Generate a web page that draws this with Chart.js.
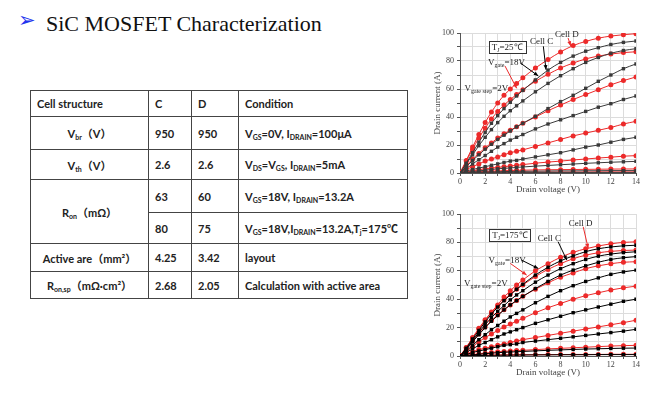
<!DOCTYPE html>
<html>
<head>
<meta charset="utf-8">
<script src="https://cdn.jsdelivr.net/npm/chart.js@4/dist/chart.umd.min.js"></script>
<style>
  body { margin: 0; background: #fff; }
  #page { position: relative; width: 668px; height: 397px; overflow: hidden; background: #fff; }
  #bullet { position: absolute; left: 18px; top: 9px; font: 21px/22px "DejaVu Sans"; color: #2233ee; }
  #title { position: absolute; left: 46px; top: 13px; font: 22px/22px "Liberation Serif"; color: #111; white-space: nowrap; }
  #spec { position: absolute; left: 30px; top: 90px; width: 377px; border-collapse: collapse; table-layout: fixed;
          font: bold 11px Lato, "Noto Sans CJK SC", sans-serif; color: #222; }
  #spec td { border: 1px solid #444; padding: 0 0 0 6px; vertical-align: middle; white-space: nowrap; }
  #spec td.c { text-align: center; padding: 0; }
  #spec sub { font-size: 7px; vertical-align: -2px; line-height: 0; }
  canvas { position: absolute; }
</style>
</head>
<body>
<div id="page">
  <div id="bullet">➢</div>
  <div id="title">SiC MOSFET Characterization</div>
  <table id="spec">
    <colgroup><col style="width:118px"><col style="width:43px"><col style="width:47px"><col style="width:169px"></colgroup>
    <tr style="height:26px"><td>Cell structure</td><td>C</td><td>D</td><td>Condition</td></tr>
    <tr style="height:33px"><td class="c">V<sub>br</sub>（V）</td><td>950</td><td>950</td><td>V<sub>GS</sub>=0V, I<sub>DRAIN</sub>=100μA</td></tr>
    <tr style="height:30px"><td class="c">V<sub>th</sub>（V）</td><td>2.6</td><td>2.6</td><td>V<sub>DS</sub>=V<sub>GS</sub>, I<sub>DRAIN</sub>=5mA</td></tr>
    <tr style="height:33px"><td class="c" rowspan="2">R<sub>on</sub>（mΩ）</td><td>63</td><td>60</td><td>V<sub>GS</sub>=18V, I<sub>DRAIN</sub>=13.2A</td></tr>
    <tr style="height:31px"><td>80</td><td>75</td><td>V<sub>GS</sub>=18V,I<sub>DRAIN</sub>=13.2A,T<sub>j</sub>=175℃</td></tr>
    <tr style="height:28px"><td class="c">Active are（mm²）</td><td>4.25</td><td>3.42</td><td>layout</td></tr>
    <tr style="height:27px"><td class="c">R<sub>on,sp</sub>（mΩ·cm²）</td><td>2.68</td><td>2.05</td><td>Calculation with active area</td></tr>
  </table>
  <canvas id="chart25" width="230" height="175" style="left:420px;top:25px"></canvas>
  <canvas id="chart175" width="230" height="180" style="left:420px;top:205px"></canvas>
</div>
<script>
// drain voltage (V) at which the curves are sampled
const voltage = [0, 0.5, 1, 1.5, 2, 2.5, 3, 3.5, 4, 4.5, 5, 6, 7, 8, 9, 10, 11, 12, 13, 14];

// Tj = 25C, drain current (A), cell C (squares) and cell D (circles), Vgate 18V down in 2V steps
const c25_18 = [0, 7, 14.5, 22, 29, 35.5, 41, 46, 50.5, 55, 59, 66.5, 73.5, 79, 83.5, 87, 89.5, 91.8, 93.3, 94.3];
const c25_16 = [0, 6.5, 13, 19.5, 25.5, 31, 36, 40.5, 44.5, 48, 51.5, 58, 64, 69.5, 74.5, 79, 82.5, 85.5, 87.5, 88.8];
const c25_14 = [0, 4.5, 9, 13, 17, 20.5, 24, 27, 30, 33, 35.5, 40.5, 46, 51, 55.5, 60.5, 65.5, 70, 74.5, 77.9];
const c25_12 = [0, 3, 6.5, 9.5, 12.5, 15.5, 18.5, 21, 23.5, 25.5, 27.5, 31.5, 35, 38, 41, 44, 47, 49.5, 52.5, 55];
const c25_10 = [0, 1.5, 2.5, 3.5, 4.5, 5.5, 6.5, 7.5, 8.5, 9, 10, 11.5, 13, 14.5, 16.5, 18.5, 20, 22, 24, 25.5];
const c25_8 = [0, 0.5, 1, 1.5, 2, 2.5, 3, 3.3, 3.6, 4, 4.3, 4.9, 5.4, 5.9, 6.4, 6.9, 7.3, 7.7, 8, 8.3];
const c25_6 = [0, 0.2, 0.4, 0.6, 0.7, 0.8, 0.9, 1, 1.1, 1.2, 1.2, 1.3, 1.4, 1.5, 1.5, 1.6, 1.6, 1.7, 1.7, 1.7];
const c25_4 = [0, 0.05, 0.1, 0.1, 0.15, 0.2, 0.2, 0.2, 0.2, 0.25, 0.25, 0.25, 0.3, 0.3, 0.3, 0.3, 0.3, 0.3, 0.3, 0.3];
const d25_18 = [0, 9, 18.5, 27.5, 36, 43.5, 50, 55.5, 60, 64, 68, 75, 81, 86.5, 91, 94, 96.3, 97.8, 98.8, 99.5];
const d25_16 = [0, 8.5, 17, 25, 32, 38.5, 44, 48.5, 52.5, 56, 59.5, 65.5, 70.5, 75, 78.5, 81.5, 83.5, 85, 86, 86.6];
const d25_14 = [0, 5, 10, 14, 18, 21.5, 25, 28, 30.5, 33, 35.5, 40, 44.5, 48.5, 52.5, 56, 59.5, 63, 66, 68.6];
const d25_12 = [0, 2.5, 4.5, 6.5, 8.5, 10, 11.5, 13, 14.5, 15.5, 16.5, 19, 21.5, 24, 26.5, 28.5, 30.5, 32.5, 35, 36.9];
const d25_10 = [0, 0.8, 1.5, 2.3, 3, 3.5, 4, 4.5, 5, 5.5, 6, 7, 7.8, 8.5, 9.3, 10, 10.7, 11.3, 12, 12.4];
const d25_8 = [0, 0.3, 0.6, 0.9, 1.1, 1.3, 1.5, 1.6, 1.8, 1.9, 2, 2.2, 2.3, 2.4, 2.5, 2.6, 2.7, 2.8, 2.85, 2.9];
const d25_6 = [0, 0.1, 0.2, 0.3, 0.4, 0.4, 0.5, 0.5, 0.5, 0.6, 0.6, 0.6, 0.7, 0.7, 0.7, 0.7, 0.8, 0.8, 0.8, 0.8];

// Tj = 175C
const c175_18 = [0, 5.5, 12, 18, 24, 29.5, 34.5, 39, 43, 47, 50.5, 57, 62.5, 67, 70.5, 73.5, 75.5, 76.8, 77.6, 78];
const c175_16 = [0, 5, 11, 16.5, 22, 27, 31.5, 35.5, 39.5, 43, 46, 52, 57, 61.5, 65, 68, 70.3, 71.8, 72.8, 73.4];
const c175_14 = [0, 4.5, 10, 15, 20, 24.5, 28.5, 32.5, 36, 39, 42, 47.5, 52.5, 57, 60.5, 63.5, 66, 68, 69.2, 70];
const c175_12 = [0, 3.5, 7.5, 11.5, 15, 18.5, 21.5, 24.5, 27.5, 30, 32.5, 37.5, 42, 46, 49.5, 52.5, 55, 57.5, 59.2, 60.5];
const c175_10 = [0, 2.5, 5, 7.5, 9.5, 11.5, 13.5, 15.5, 17, 18.5, 20, 23, 25.5, 28, 30.5, 32.5, 34.5, 36.5, 38.5, 40];
const c175_8 = [0, 1, 2.5, 3.5, 4.5, 5.5, 6.5, 7.5, 8, 8.5, 9.5, 10.5, 11.5, 12.5, 13.5, 14.5, 15.5, 16.5, 17.5, 18.8];
const c175_6 = [0, 0.4, 0.8, 1.2, 1.6, 2, 2.3, 2.6, 2.8, 3, 3.2, 3.6, 4, 4.3, 4.6, 4.9, 5.1, 5.3, 5.5, 5.6];
const c175_4 = [0, 0.1, 0.2, 0.3, 0.4, 0.5, 0.5, 0.6, 0.6, 0.7, 0.7, 0.8, 0.8, 0.9, 0.9, 0.9, 1, 1, 1, 1];
const d175_18 = [0, 6, 13, 19.5, 25.5, 31, 36, 41.5, 46, 50, 53.5, 60, 65, 69.5, 73, 75.5, 77.5, 79, 80, 80.4];
const d175_16 = [0, 6, 12.5, 19, 25, 30.5, 35, 39.5, 43.5, 47, 50, 56, 61, 65, 68.5, 71, 72.7, 73.7, 74.3, 74.6];
const d175_14 = [0, 5, 10.5, 15.5, 20.5, 25, 29, 32.5, 36, 39, 42, 47, 51.5, 55.5, 58.5, 61.5, 63.5, 65, 66, 66.4];
const d175_12 = [0, 3, 6.5, 10, 13, 15.5, 18, 20.5, 22.5, 24.5, 26.5, 30.5, 34, 37, 40, 42.5, 44.5, 46.5, 48, 49.2];
const d175_10 = [0, 1.5, 3, 4.5, 5.5, 6.5, 7.5, 8.5, 9.5, 10.5, 11.5, 13, 14.5, 16, 17.5, 19, 20.5, 22, 23.5, 25.2];
const d175_8 = [0, 0.5, 1, 1.5, 2, 2.5, 3, 3.2, 3.5, 3.8, 4, 4.5, 5, 5.4, 5.8, 6.2, 6.6, 7, 7.3, 7.5];
const d175_6 = [0, 0.1, 0.3, 0.4, 0.5, 0.6, 0.7, 0.7, 0.8, 0.8, 0.9, 0.9, 1, 1, 1.1, 1.1, 1.1, 1.2, 1.2, 1.2];

const xTicks = [0, 2, 4, 6, 8, 10, 12, 14];
const yTicks = [0, 20, 40, 60, 80, 100];

const red = "#ec2a2a";
const serif = "Liberation Serif";

// text labels and arrows drawn on top, placed in data units
const labels25 = [
    { parts: [["T", 0], ["J", 1], ["=25℃", 0]], x: 3.75, y: 89.9, box: true },
    { parts: [["Cell C", 0]], x: 6.5, y: 94 },
    { parts: [["Cell D", 0]], x: 8.5, y: 99 },
    { parts: [["V", 0], ["gate", 1], ["=18V", 0]], x: 3.7, y: 79.5 },
    { parts: [["V", 0], ["gate step", 1], ["=2V", 0]], x: 2.1, y: 61 }
];
const arrows25 = [
    { from: [6.63, 90.5], to: [6.84, 73.8], color: "#000" },
    { from: [8.6, 96.4], to: [8.8, 90.8], color: red },
    { from: [4.77, 78.8], to: [6.23, 69.3], color: "#000" },
    { from: [3.58, 76.4], to: [4.51, 60.5], color: red }
];
const labels175 = [
    { parts: [["T", 0], ["J", 1], ["=175℃", 0]], x: 3.97, y: 85.4, box: true },
    { parts: [["Cell C", 0]], x: 7.1, y: 83 },
    { parts: [["Cell D", 0]], x: 9.6, y: 93.5 },
    { parts: [["V", 0], ["gate", 1], ["=18V", 0]], x: 3.75, y: 67.5 },
    { parts: [["V", 0], ["gate step", 1], ["=2V", 0]], x: 2.05, y: 51.5 }
];
const arrows175 = [
    { from: [7.8, 80.5], to: [8.5, 67.5], color: "#000" },
    { from: [9.8, 91], to: [10.2, 75.8], color: red },
    { from: [4.9, 67.5], to: [6.23, 61.6], color: "#000" },
    { from: [4.0, 65.2], to: [5.3, 57], color: red }
];

function series(values) {
    return voltage.map((v, i) => ({ x: v, y: values[i] }));
}

function buildDatasets(cellC, cellD, black) {
    const sets = [];
    cellC.forEach(values => sets.push({
        data: series(values), borderColor: black, backgroundColor: black,
        pointStyle: "rect", pointRadius: 2.4, pointBorderWidth: 0, borderWidth: 1
    }));
    cellD.forEach(values => sets.push({
        data: series(values), borderColor: red, backgroundColor: red,
        pointStyle: "circle", pointRadius: 2.5, pointBorderWidth: 0, borderWidth: 1
    }));
    return sets;
}

function drawRich(ctx, cx, cy, parts, box) {
    const big = "9px '" + serif + "'";
    const small = "6px '" + serif + "'";
    let total = 0;
    parts.forEach(p => { ctx.font = p[1] ? small : big; total += ctx.measureText(p[0]).width; });
    let x = cx - total / 2;
    if (box) {
        ctx.fillStyle = "#fff";
        ctx.fillRect(x - 3, cy - 6, total + 6, 12);
        ctx.strokeStyle = "#333";
        ctx.lineWidth = 1;
        ctx.strokeRect(Math.round(x - 3) + 0.5, Math.round(cy - 6) + 0.5, Math.round(total + 6), 12);
    }
    ctx.fillStyle = "#222";
    ctx.textBaseline = "alphabetic";
    ctx.textAlign = "left";
    parts.forEach(p => {
        ctx.font = p[1] ? small : big;
        ctx.fillText(p[0], x, cy + (p[1] ? 5 : 3));
        x += ctx.measureText(p[0]).width;
    });
}

// Desenhar rótulos e setas
const notesPlugin = {
    id: "notes",
    afterDatasetsDraw(chart, args, opts) {
        const { ctx } = chart;
        const sx = chart.scales.x, sy = chart.scales.y;
        ctx.save();
        (opts.arrows || []).forEach(a => {
            const x1 = sx.getPixelForValue(a.from[0]), y1 = sy.getPixelForValue(a.from[1]);
            const x2 = sx.getPixelForValue(a.to[0]), y2 = sy.getPixelForValue(a.to[1]);
            const ang = Math.atan2(y2 - y1, x2 - x1);
            ctx.strokeStyle = a.color;
            ctx.fillStyle = a.color;
            ctx.lineWidth = 1;
            ctx.beginPath();
            ctx.moveTo(x1, y1);
            ctx.lineTo(x2, y2);
            ctx.stroke();
            ctx.beginPath();
            ctx.moveTo(x2, y2);
            ctx.lineTo(x2 - 5 * Math.cos(ang - 0.4), y2 - 5 * Math.sin(ang - 0.4));
            ctx.lineTo(x2 - 5 * Math.cos(ang + 0.4), y2 - 5 * Math.sin(ang + 0.4));
            ctx.closePath();
            ctx.fill();
        });
        (opts.labels || []).forEach(l => {
            drawRich(ctx, sx.getPixelForValue(l.x), sy.getPixelForValue(l.y), l.parts, l.box);
        });
        ctx.restore();
    }
};

function makeChart(id, cellC, cellD, black, labels, arrows, padTop, xAxisHeight, titlePad) {
    return new Chart(document.getElementById(id), {
        type: "line",
        data: { datasets: buildDatasets(cellC, cellD, black) },
        options: {
            responsive: false,
            animation: false,
            cubicInterpolationMode: "monotone",
            layout: { padding: { top: padTop, right: 14, left: 0, bottom: 0 } },
            plugins: {
                legend: { display: false },
                tooltip: { enabled: false },
                notes: { labels: labels, arrows: arrows }
            },
            scales: {
                x: {
                    type: "linear", min: 0, max: 14,
                    afterFit: s => { s.height = xAxisHeight; },
                    afterBuildTicks: s => {
                        s.ticks = [];
                        for (let v = 0; v <= 14; v++) s.ticks.push({ value: v });
                    },
                    ticks: {
                        autoSkip: false, maxRotation: 0, padding: 1,
                        color: "#444", font: { family: serif, size: 8 },
                        callback: v => xTicks.includes(v) ? v : ""
                    },
                    grid: { color: "#dcdcdc", tickLength: 3, tickColor: "#555" },
                    border: { color: "#555" },
                    title: {
                        display: true, text: "Drain voltage (V)", color: "#444",
                        font: { family: serif, size: 9 }, padding: { top: 0, bottom: titlePad }
                    }
                },
                y: {
                    min: 0, max: 100,
                    afterFit: s => { s.width = 40; },
                    afterBuildTicks: s => {
                        s.ticks = [];
                        for (let v = 0; v <= 100; v += 10) s.ticks.push({ value: v });
                    },
                    ticks: {
                        autoSkip: false, padding: 3,
                        color: "#444", font: { family: serif, size: 8 },
                        callback: v => yTicks.includes(v) ? v : ""
                    },
                    grid: { color: "#dcdcdc", tickLength: 3, tickColor: "#555" },
                    border: { color: "#555" },
                    title: {
                        display: true, text: "Drain current (A)", color: "#444",
                        font: { family: serif, size: 9 }, padding: { top: 12, bottom: 0 }
                    }
                }
            }
        },
        plugins: [notesPlugin]
    });
}

makeChart("chart25",
    [c25_18, c25_16, c25_14, c25_12, c25_10, c25_8, c25_6, c25_4],
    [d25_18, d25_16, d25_14, d25_12, d25_10, d25_8, d25_6],
    "#3a3a3a", labels25, arrows25, 8, 27, 4.5);

makeChart("chart175",
    [c175_18, c175_16, c175_14, c175_12, c175_10, c175_8, c175_6, c175_4],
    [d175_18, d175_16, d175_14, d175_12, d175_10, d175_8, d175_6],
    "#000", labels175, arrows175, 9, 29, 6.5);
</script>
</body>
</html>
